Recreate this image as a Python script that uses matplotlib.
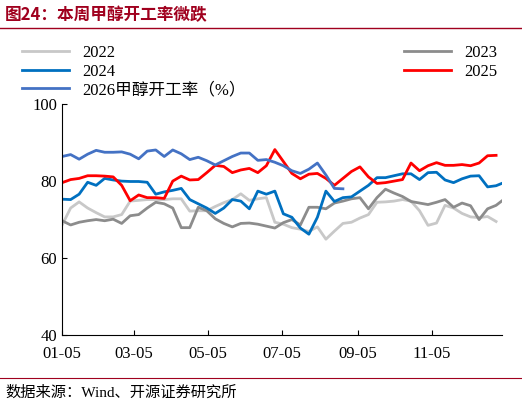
import matplotlib
matplotlib.use("Agg")
import matplotlib.pyplot as plt
import numpy as np

plt.rcParams['font.family'] = ['Liberation Serif', 'Noto Sans CJK SC']

y2022 = [68.6, 73, 74.6, 73, 71.8, 70.7, 70.7, 71.3, 74.8, 75, 75.2, 75.2, 75.2, 75.4, 75.4, 72.2,
         72.3, 72.3, 73.4, 74.4, 75.2, 76.7, 75, 75.4, 75.7, 69.3, 68.8, 67.9, 67.5, 66.9, 68.1, 64.9,
         67, 69, 69.3, 70.4, 71.3, 74.5, 74.6, 74.8, 75.2, 74.8, 72.3, 68.5, 69.1, 73.7, 73, 71.6,
         70.7, 70.5, 70.8, 69.5]
y2023 = [69.7, 68.6, 69.3, 69.7, 70, 69.7, 70.1, 69, 71, 71.3, 73, 74.5, 74.1, 73, 67.9, 67.9,
         73.2, 72.3, 70.2, 69, 68.1, 69, 69.1, 68.8, 68.3, 67.8, 69.2, 70, 68.6, 73.2, 73.2, 72.8,
         74.3, 74.8, 75.4, 75.7, 72.8, 75.7, 77.9, 76.9, 76, 74.7, 74.3, 73.9, 74.5, 75.2, 73.2, 74.3,
         73.6, 70, 72.8, 73.7, 75.4]
y2024 = [75.3, 75.2, 76.6, 79.7, 78.9, 80.7, 80.3, 80, 79.9, 79.9, 79.7, 76.6, 77.2, 77.6, 78.1, 75.2,
         74.1, 73, 71.6, 73, 75.2, 74.8, 72.8, 77.4, 76.6, 77.4, 71.5, 70.6, 67.8, 66.2, 70.6, 77.4,
         74.7, 75.7, 75.9, 77.4, 78.9, 80.9, 80.9, 81.4, 81.9, 81.9, 80.4, 82.2, 82.3, 80.3, 79.6, 80.6,
         81.3, 81.4, 78.5, 78.8, 79.7]
y2025 = [79.6, 80.4, 80.7, 81.4, 81.4, 81.3, 81.1, 78.9, 74.9, 76.4, 75.7, 75.7, 75.5, 80, 81.3, 80.3,
         80.4, 82.2, 84.1, 83.8, 82.2, 82.9, 83.3, 82.2, 84, 88.2, 85.1, 82, 80.6, 81.8, 82, 80.7,
         78.9, 80.7, 82.5, 83.7, 81.1, 79.4, 79.6, 80, 80.4, 84.7, 82.7, 84, 84.8, 84.1, 84.1, 84.3,
         84, 84.7, 86.6, 86.7]
y2026 = [86.4, 86.9, 85.7, 87, 88, 87.5, 87.5, 87.6, 87, 85.8, 87.8, 88.1, 86.4, 88.1, 87.1, 85.6,
         86.2, 85.3, 84.2, 85.3, 86.4, 87.3, 87.3, 85.4, 85.6, 84.9, 84, 82.7, 82, 83.1, 84.7, 81.6,
         78.1, 78]
tick_days = [0, 59, 120, 181, 243, 304]
tick_labels = ["01-05", "03-05", "05-05", "07-05", "09-05", "11-05"]

fig = plt.figure(figsize=(5.22, 4.07), dpi=100)
ax = fig.add_axes([0.119, 0.177, 0.843, 0.567])

series = [("2022", y2022, "#c8c8c8"), ("2023", y2023, "#8c8c8c"), ("2024", y2024, "#0070c0"),
          ("2025", y2025, "#ff0000"), ("2026甲醇开工率（%）", y2026, "#4472c4")]
handles = {}
for name, ys, c in series:
    x = np.arange(len(ys)) * 7
    h, = ax.plot(x, ys, color=c, linewidth=2, label=name)
    handles[name] = h

ax.set_ylim(40, 100)
ax.set_yticks([40, 60, 80, 100])
ax.set_xlim(0, 362)
ax.set_xticks(tick_days, tick_labels)
ax.tick_params(labelsize=12, direction="in")
ax.tick_params(axis="x", pad=8)
for s in ["top", "right"]:
    ax.spines[s].set_visible(False)

# column-wise fill: left column 2022/2024/2026, right column 2023/2025
order = ["2022", "2024", "2026甲醇开工率（%）", "2023", "2025"]
fig.legend(handles=[handles[k] for k in order], loc="upper left", bbox_to_anchor=(0.03, 0.905),
           ncol=2, frameon=False, fontsize=12, handlelength=2.8, columnspacing=9.5,
           labelspacing=0.15, borderaxespad=0)

fig.text(0.01, 0.985, "图24：本周甲醇开工率微跌", fontsize=12, fontweight="bold",
         color="#a0001e", va="top", family=['Noto Sans CJK SC'])
fig.add_artist(plt.Line2D([0.0, 1.0], [0.932, 0.932], color="#a0001e", linewidth=1))
fig.add_artist(plt.Line2D([0.0, 1.0], [0.072, 0.072], color="#a0001e", linewidth=0.8))
fig.text(0.01, 0.035, "数据来源：Wind、开源证券研究所", fontsize=11, va="center")

fig.savefig("out.png", dpi=100)
